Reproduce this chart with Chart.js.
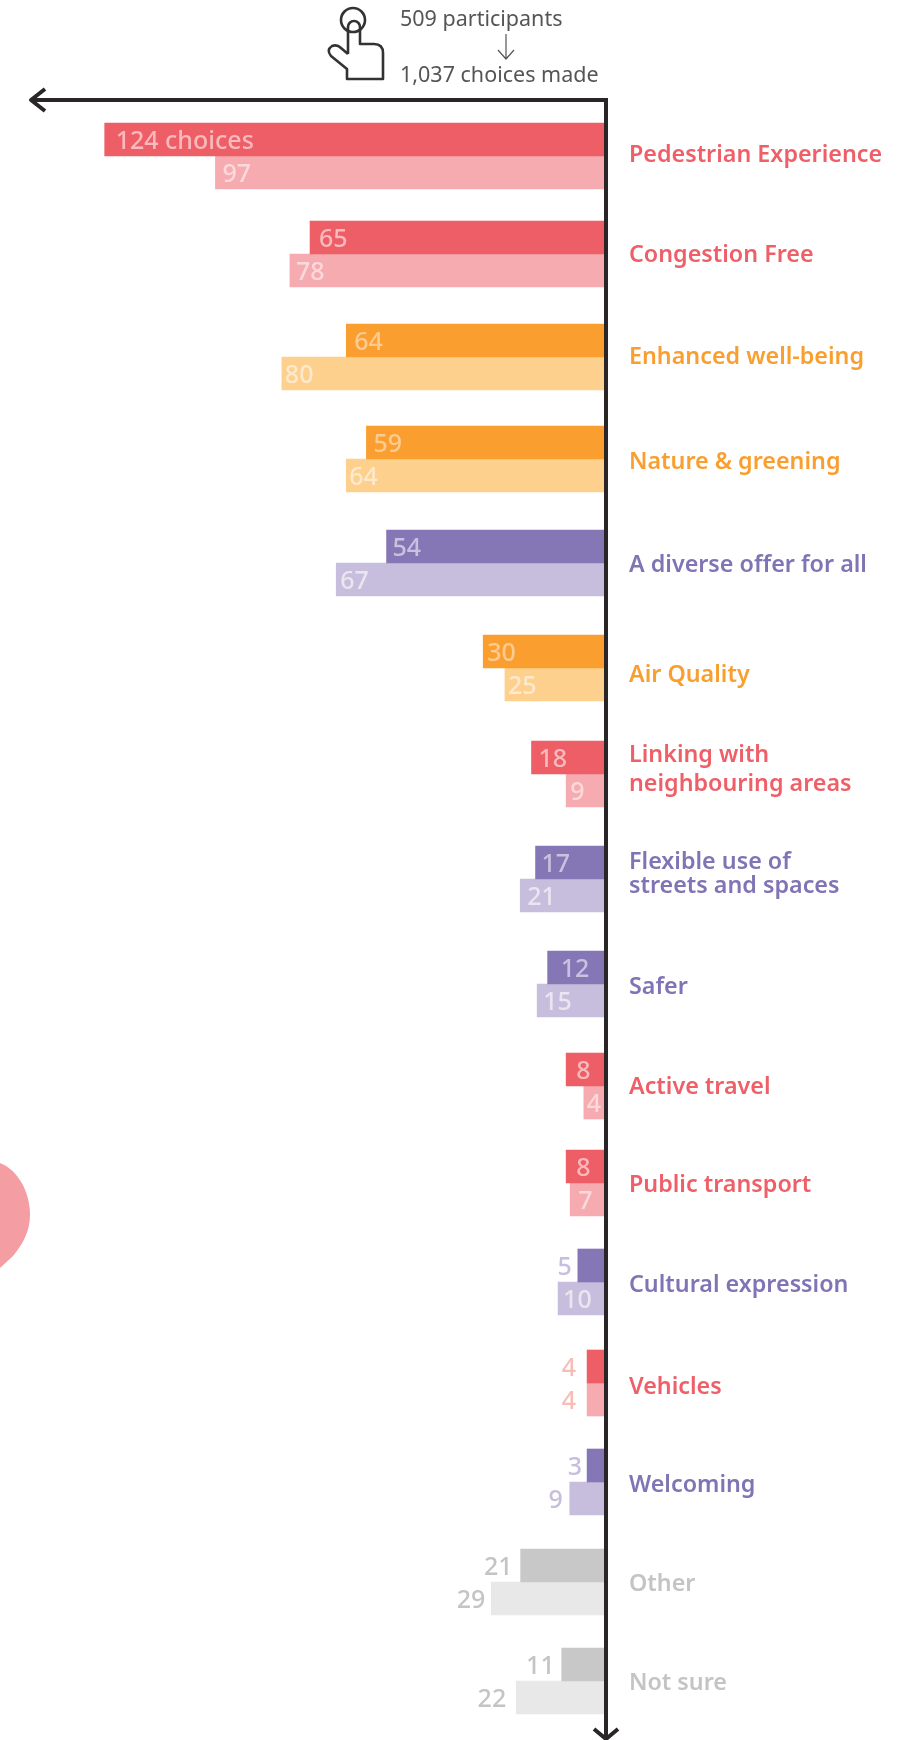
<!DOCTYPE html>
<html>
<head>
<meta charset="utf-8">
<title>Choices made</title>
<script src="https://cdn.jsdelivr.net/npm/chart.js@4/dist/chart.umd.js"></script>
<style>
    html, body { margin: 0; padding: 0; background: #fff; }
    canvas { display: block; }
</style>
</head>
<body>
<canvas id="chart" width="913" height="1740"></canvas>
<script>
// ==================== data ====================
const categories = [
    ['Pedestrian Experience'], ['Congestion Free'], ['Enhanced well-being'], ['Nature & greening'],
    ['A diverse offer for all'], ['Air Quality'], ['Linking with', 'neighbouring areas'],
    ['Flexible use of', 'streets and spaces'], ['Safer'], ['Active travel'], ['Public transport'],
    ['Cultural expression'], ['Vehicles'], ['Welcoming'], ['Other'], ['Not sure']
]
const themes = ['red', 'red', 'orange', 'orange', 'purple', 'orange', 'red', 'purple',
    'purple', 'red', 'red', 'purple', 'red', 'purple', 'grey', 'grey']

// bar lengths as drawn in the picture
const upperValues = [124, 73, 64, 59, 54, 30, 18, 17, 14, 9.4, 9.4, 6.5, 4.2, 4.2, 20.7, 10.5]
const lowerValues = [96.5, 78, 80, 64, 66.5, 24.6, 9.4, 20.8, 16.6, 5, 8.4, 11.4, 4.2, 8.5, 28, 21.8]
// numbers printed next to the bars
const upperLabels = ['124 choices', '65', '64', '59', '54', '30', '18', '17', '12', '8', '8', '5', '4', '3', '21', '11']
const lowerLabels = ['97', '78', '80', '64', '67', '25', '9', '21', '15', '4', '7', '10', '4', '9', '29', '22']

// ==================== layout ====================
const rowSteps = [49, 98, 103, 102, 104, 105, 106, 105, 105, 102, 97, 99, 101, 99, 100, 99, 49]
const labelNudge = [-1, 1, 0, 3, 2, 7, -4, -5, 3, 1, 2, 3, 4, 3, 2, 2]
const lineHeights = { 6: 29, 7: 24 }
const upperInset = [11, 9, 8, 7, 6, 4, 7, 6, 13, 10, 10, -6, -11, -5, -8, -7]
const lowerInset = [7, 6, 3, 3, 4, 3, 4, 7, 6, 3, 8, 5, -11, -7, -6, -10]

const COLORS = {
    red: { upper: '#EE5E67', lower: '#F5ABB0', text: '#EF5F68', upperNum: '#F9BABD', lowerNum: '#FBD9DB', outNum: '#F7BDB6' },
    orange: { upper: '#FA9F2F', lower: '#FDD08E', text: '#F99F30', upperNum: '#FCCB92', lowerNum: '#FEE9CC', outNum: '#FDD08E' },
    purple: { upper: '#8577B5', lower: '#C6BEDC', text: '#8074B5', upperNum: '#C9C2DF', lowerNum: '#E9E6F2', outNum: '#C6BEDC' },
    grey: { upper: '#C8C8C8', lower: '#E8E8E8', text: '#C4C4C4', upperNum: '#C4C4C4', lowerNum: '#C4C4C4', outNum: '#C4C4C4' }
}
const FONT = '"Noto Sans", Lato, sans-serif'

// category scale whose rows are not evenly spaced
class SteppedCategoryScale extends Chart.CategoryScale {
    static id = 'steppedCategory'

    getPixelForValue(value) {
        if (typeof value !== 'number') value = this.parse(value)
        if (value === null) return NaN
        const total = rowSteps.reduce((a, b) => a + b, 0)
        const before = rowSteps.slice(0, value + 1).reduce((a, b) => a + b, 0)
        return this.getPixelForDecimal(before / total)
    }

    _computeLabelItems(chartArea) {
        const items = super._computeLabelItems(chartArea)
        items.forEach((item, i) => { item.options.translation[1] += labelNudge[i] || 0 })
        return items
    }
}
Chart.register(SteppedCategoryScale)

// ==================== value labels ====================
const valueLabels = {
    id: 'valueLabels',
    afterDatasetsDraw(chart) {
        const ctx = chart.ctx
        ctx.save()
        ctx.font = `500 25px ${FONT}`
        ctx.textBaseline = 'middle'
        const sets = [[upperLabels, upperInset, 'upperNum'], [lowerLabels, lowerInset, 'lowerNum']]
        sets.forEach(([labels, insets, colorKey], d) => {
            chart.getDatasetMeta(d).data.forEach((bar, i) => {
                const inside = insets[i] > 0
                const c = COLORS[themes[i]]
                ctx.fillStyle = inside ? c[colorKey] : c.outNum
                ctx.textAlign = inside ? 'left' : 'right'
                ctx.fillText(labels[i], bar.x + insets[i], bar.y + 2)
            })
        })
        ctx.restore()
    }
}

// ==================== axes, icon and header ====================
const decorations = {
    id: 'decorations',
    beforeDatasetsDraw(chart) {
        const ctx = chart.ctx
        ctx.save()
        // partly hidden pin at the left edge
        ctx.fillStyle = '#F49DA3'
        ctx.beginPath()
        ctx.moveTo(0, 1163)
        ctx.bezierCurveTo(18, 1170, 30, 1192, 30, 1215)
        ctx.bezierCurveTo(30, 1232, 22, 1245, 13, 1256)
        ctx.lineTo(0, 1268)
        ctx.closePath()
        ctx.fill()
        ctx.restore()
    },
    afterDraw(chart) {
        const ctx = chart.ctx
        const x = chart.chartArea.right + 2
        ctx.save()
        ctx.strokeStyle = '#2A2627'
        ctx.lineWidth = 4
        ctx.lineJoin = 'miter'
        ctx.beginPath()
        ctx.moveTo(32, 100)
        ctx.lineTo(x, 100)
        ctx.lineTo(x, 1745)
        ctx.stroke()
        ctx.lineJoin = 'round'
        ctx.beginPath()
        ctx.moveTo(45, 89)
        ctx.lineTo(31, 100)
        ctx.lineTo(45, 111)
        ctx.stroke()
        ctx.beginPath()
        ctx.moveTo(594, 1729)
        ctx.lineTo(x, 1739)
        ctx.lineTo(618, 1729)
        ctx.stroke()

        // hand icon
        ctx.strokeStyle = '#333'
        ctx.lineWidth = 2.6
        ctx.beginPath()
        ctx.arc(353, 20, 12, 0, Math.PI * 2)
        ctx.stroke()
        ctx.beginPath()
        ctx.moveTo(348, 54)
        ctx.lineTo(348, 27)
        ctx.arc(354, 27, 6, Math.PI, 0)
        ctx.lineTo(360, 44)
        ctx.lineTo(374, 44)
        ctx.quadraticCurveTo(383, 44, 383, 53)
        ctx.lineTo(383, 79)
        ctx.lineTo(347, 79)
        ctx.lineTo(347, 69)
        ctx.lineTo(331, 56)
        ctx.quadraticCurveTo(326, 50, 332, 46)
        ctx.quadraticCurveTo(337, 44, 341, 48)
        ctx.lineTo(348, 54)
        ctx.stroke()

        // header
        ctx.fillStyle = '#555'
        ctx.font = `400 21.5px ${FONT}`
        ctx.textAlign = 'left'
        ctx.textBaseline = 'alphabetic'
        ctx.fillText('509 participants', 400, 26)
        ctx.fillText('1,037 choices made', 400, 82)
        ctx.strokeStyle = '#555'
        ctx.lineWidth = 1.2
        ctx.beginPath()
        ctx.moveTo(506, 34)
        ctx.lineTo(506, 59)
        ctx.moveTo(498, 50)
        ctx.lineTo(506, 59)
        ctx.lineTo(514, 50)
        ctx.stroke()
        ctx.restore()
    }
}

new Chart(document.getElementById('chart'), {
    type: 'bar',
    data: {
        labels: categories,
        datasets: [
            { data: upperValues, backgroundColor: themes.map(t => COLORS[t].upper), barThickness: 33 },
            { data: lowerValues, backgroundColor: themes.map(t => COLORS[t].lower), barThickness: 33 }
        ]
    },
    options: {
        indexAxis: 'y',
        responsive: false,
        animation: false,
        layout: { padding: { top: 107, bottom: 10, left: 0, right: 0 } },
        plugins: {
            legend: { display: false },
            tooltip: { enabled: false }
        },
        scales: {
            x: { display: false, reverse: true, min: 0, max: 150 },
            y: {
                type: 'steppedCategory',
                position: 'right',
                grid: { display: false },
                border: { display: false },
                afterFit: (axis) => {
                    axis.width = 309
                    axis.paddingTop = 0
                    axis.paddingBottom = 0
                },
                ticks: {
                    autoSkip: false,
                    padding: 17,
                    maxRotation: 0,
                    color: (c) => COLORS[themes[c.index]].text,
                    font: (c) => ({
                        family: FONT,
                        size: 23.3,
                        weight: 600,
                        lineHeight: (lineHeights[c.index] || 28) + 'px'
                    })
                }
            }
        }
    },
    plugins: [decorations, valueLabels]
})
</script>
</body>
</html>
